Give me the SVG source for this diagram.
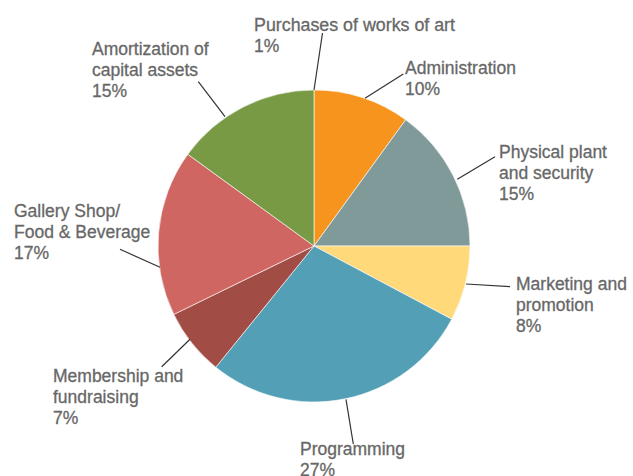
<svg xmlns="http://www.w3.org/2000/svg" width="633" height="476" viewBox="0 0 633 476">
<style>
.lbl{font-family:"Liberation Sans",Arial,sans-serif;font-size:17.5px;fill:#676767;stroke:#676767;stroke-width:0.3;}
.ld{stroke:#333;stroke-width:1.2;fill:none;}
.sl{stroke:#fff;stroke-width:0.6;}
</style>
<rect width="633" height="476" fill="#fff"/>
<g id="pie">
<path id="s-admin" class="sl" d="M314,246 L314,90 A156,156 0 0 1 405.7,119.8 Z" fill="#F7941D"/>
<path id="s-phys" class="sl" d="M314,246 L405.7,119.8 A156,156 0 0 1 470,246 Z" fill="#7F9A98"/>
<path id="s-mkt" class="sl" d="M314,246 L470,246 A156,156 0 0 1 451.7,319.2 Z" fill="#FFD97A"/>
<path id="s-prog" class="sl" d="M314,246 L451.7,319.2 A156,156 0 0 1 215.8,367.2 Z" fill="#539FB6"/>
<path id="s-memb" class="sl" d="M314,246 L215.8,367.2 A156,156 0 0 1 173.8,314.4 Z" fill="#A14D45"/>
<path id="s-gal" class="sl" d="M314,246 L173.8,314.4 A156,156 0 0 1 187.8,154.3 Z" fill="#D06662"/>
<path id="s-amort" class="sl" d="M314,246 L187.8,154.3 A156,156 0 0 1 314,90 Z" fill="#789A45"/>
</g>
<g id="connectors">
<line class="ld" x1="314" y1="90" x2="322.5" y2="33"/>
<line class="ld" x1="365" y1="98.3" x2="403.3" y2="74"/>
<line class="ld" x1="225" y1="116.7" x2="198.3" y2="81.7"/>
<line class="ld" x1="160" y1="267.3" x2="120" y2="249.3"/>
<line class="ld" x1="457.3" y1="179.3" x2="495" y2="156.7"/>
<line class="ld" x1="466" y1="284" x2="510" y2="286.7"/>
<line class="ld" x1="190" y1="339.3" x2="161.7" y2="366.7"/>
<line class="ld" x1="346" y1="399.3" x2="353.3" y2="444"/>
</g>
<g id="label-purchases"><text class="lbl" x="254" y="31" textLength="201" lengthAdjust="spacingAndGlyphs">Purchases of works of art</text><text class="lbl" x="254" y="52">1%</text></g>
<g id="label-admin"><text class="lbl" x="405" y="74">Administration</text><text class="lbl" x="405" y="95">10%</text></g>
<g id="label-phys"><text class="lbl" x="499" y="158">Physical plant</text><text class="lbl" x="499" y="179">and security</text><text class="lbl" x="499" y="200">15%</text></g>
<g id="label-mkt"><text class="lbl" x="516" y="290">Marketing and</text><text class="lbl" x="516" y="311">promotion</text><text class="lbl" x="516" y="332">8%</text></g>
<g id="label-prog"><text class="lbl" x="300" y="455">Programming</text><text class="lbl" x="300" y="476">27%</text></g>
<g id="label-memb"><text class="lbl" x="53" y="382">Membership and</text><text class="lbl" x="53" y="403">fundraising</text><text class="lbl" x="53" y="424">7%</text></g>
<g id="label-gal"><text class="lbl" x="14" y="217">Gallery Shop/</text><text class="lbl" x="14" y="238">Food &amp; Beverage</text><text class="lbl" x="14" y="259">17%</text></g>
<g id="label-amort"><text class="lbl" x="92" y="55">Amortization of</text><text class="lbl" x="92" y="76">capital assets</text><text class="lbl" x="92" y="97">15%</text></g>
</svg>
